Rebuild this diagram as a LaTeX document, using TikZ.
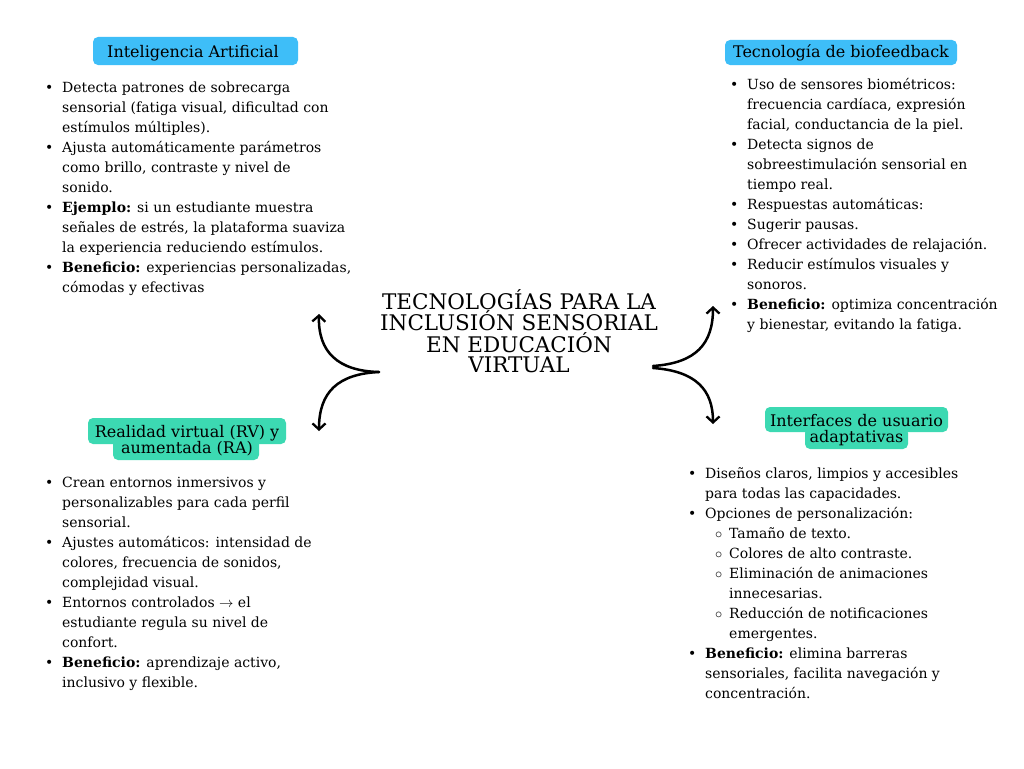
\documentclass[tikz,border=0pt]{standalone}
\usepackage{fontspec}
\setmainfont{DejaVu Serif}
\usetikzlibrary{arrows.meta}
\definecolor{lblblue}{HTML}{3EBEF8}
\definecolor{lblgreen}{HTML}{3CD9B2}
\newcommand{\bl}{\makebox[17pt][l]{\textbullet}}
\newcommand{\sbl}{\hspace{10pt}\makebox[14pt][l]{$\circ$}}
\newcommand{\sind}{\hspace{24pt}}
\begin{document}
\begin{tikzpicture}[x=1pt,y=-1pt,
  body/.style={anchor=north west, inner sep=0pt, font=\fontsize{14}{20}\selectfont},
  lbl/.style={anchor=base, inner sep=0pt, align=center, font=\fontsize{16}{16}\selectfont},
  ttl/.style={anchor=base, inner sep=0pt, align=center, font=\fontsize{21.5}{20}\selectfont},
  conn/.style={line width=2.5pt, line cap=round, -{Straight Barb[length=6pt,width=13pt,line width=2.3pt]}}]
\fill[white] (0,0) rectangle (1024,768);
\useasboundingbox (0,0) rectangle (1024,768);

% label backgrounds
\fill[lblblue, rounded corners=5pt] (93,37) rectangle (298,65);
\fill[lblblue, rounded corners=5pt] (725,40) rectangle (957,65);
\fill[lblgreen, rounded corners=5pt] (88,418) rectangle (286,444);
\fill[lblgreen, rounded corners=5pt] (113,436) rectangle (259,460);
\fill[lblgreen, rounded corners=5pt] (765,407) rectangle (948,432);
\fill[lblgreen, rounded corners=5pt] (805,428) rectangle (908,449);

% labels (base anchor = last line baseline)
\node[lbl] (lia) at (193,57) {Inteligencia Artificial};
\node[lbl] (lbio) at (841,57) {Tecnología de biofeedback};
\node[lbl] (lrv) at (187,453) {Realidad virtual (RV) y\\aumentada (RA)};
\node[lbl] (lint) at (856.5,442) {Interfaces de usuario\\adaptativas};

% title
\node[ttl] (title) at (519,372) {TECNOLOGÍAS PARA LA\\INCLUSIÓN SENSORIAL\\EN EDUCACIÓN\\VIRTUAL};

% bodies
\node[body] (bia) at (45,78) {\begin{tabular}{@{}l@{}l@{}}
\bl & Detecta patrones de sobrecarga\\
 & sensorial (fatiga visual, dificultad con\\
 & estímulos múltiples).\\
\bl & Ajusta automáticamente parámetros\\
 & como brillo, contraste y nivel de\\
 & sonido.\\
\bl & \textbf{Ejemplo:} si un estudiante muestra\\
 & señales de estrés, la plataforma suaviza\\
 & la experiencia reduciendo estímulos.\\
\bl & \textbf{Beneficio:} experiencias personalizadas,\\
 & cómodas y efectivas
\end{tabular}};

\node[body] (bbio) at (730,75) {\begin{tabular}{@{}l@{}l@{}}
\bl & Uso de sensores biométricos:\\
 & frecuencia cardíaca, expresión\\
 & facial, conductancia de la piel.\\
\bl & Detecta signos de\\
 & sobreestimulación sensorial en\\
 & tiempo real.\\
\bl & Respuestas automáticas:\\
\bl & Sugerir pausas.\\
\bl & Ofrecer actividades de relajación.\\
\bl & Reducir estímulos visuales y\\
 & sonoros.\\
\bl & \textbf{Beneficio:} optimiza concentración\\
 & y bienestar, evitando la fatiga.
\end{tabular}};

\node[body] (brv) at (45,473) {\begin{tabular}{@{}l@{}l@{}}
\bl & Crean entornos inmersivos y\\
 & personalizables para cada perfil\\
 & sensorial.\\
\bl & Ajustes automáticos: intensidad de\\
 & colores, frecuencia de sonidos,\\
 & complejidad visual.\\
\bl & Entornos controlados $\rightarrow$ el\\
 & estudiante regula su nivel de\\
 & confort.\\
\bl & \textbf{Beneficio:} aprendizaje activo,\\
 & inclusivo y flexible.
\end{tabular}};

\node[body] (bint) at (688,464) {\begin{tabular}{@{}l@{}l@{}}
\bl & Diseños claros, limpios y accesibles\\
 & para todas las capacidades.\\
\bl & Opciones de personalización:\\
 & \sbl Tamaño de texto.\\
 & \sbl Colores de alto contraste.\\
 & \sbl Eliminación de animaciones\\
 & \sind innecesarias.\\
 & \sbl Reducción de notificaciones\\
 & \sind emergentes.\\
\bl & \textbf{Beneficio:} elimina barreras\\
 & sensoriales, facilita navegación y\\
 & concentración.
\end{tabular}};

% connectors
\coordinate (lc) at (379,372);
\coordinate (lu) at (319,314);
\coordinate (ld) at (319,431);
\coordinate (rcu) at (653,366);
\coordinate (rcd) at (653,368);
\coordinate (ru) at (713,306);
\coordinate (rd) at (713,424);
\draw[conn] (lc) .. controls (338,371) and (318,352) .. (lu);
\draw[conn] (lc) .. controls (338,374) and (319,392) .. (ld);
\draw[conn] (rcu) .. controls (696,363) and (713,344) .. (ru);
\draw[conn] (rcd) .. controls (696,371) and (713,390) .. (rd);
\end{tikzpicture}
\end{document}
